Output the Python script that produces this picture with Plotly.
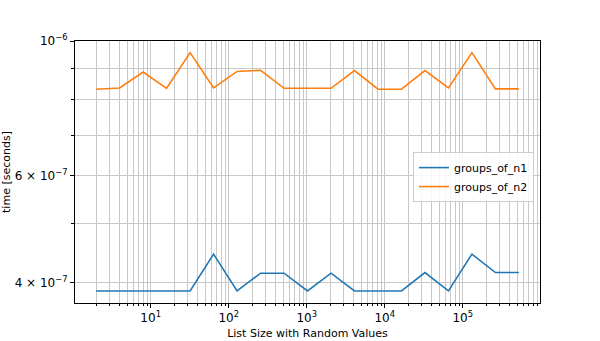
import plotly.graph_objects as go

# List sizes (powers of two) and measured timings
list_sizes = [2, 4, 8, 16, 32, 64, 128, 256, 512, 1024, 2048, 4096, 8192,
              16384, 32768, 65536, 131072, 262144, 524288]
groups_of_n1 = [3.88e-7, 3.88e-7, 3.88e-7, 3.88e-7, 3.88e-7, 4.46e-7, 3.88e-7,
                4.15e-7, 4.15e-7, 3.88e-7, 4.15e-7, 3.88e-7, 3.88e-7, 3.88e-7,
                4.16e-7, 3.88e-7, 4.46e-7, 4.16e-7, 4.16e-7]
groups_of_n2 = [8.33e-7, 8.37e-7, 8.89e-7, 8.36e-7, 9.57e-7, 8.37e-7, 8.91e-7,
                8.95e-7, 8.36e-7, 8.37e-7, 8.36e-7, 8.94e-7, 8.33e-7, 8.33e-7,
                8.94e-7, 8.37e-7, 9.57e-7, 8.34e-7, 8.34e-7]

x_major = [10, 100, 1000, 10000, 100000]
x_major_text = ["10<sup>1</sup>", "10<sup>2</sup>", "10<sup>3</sup>",
                "10<sup>4</sup>", "10<sup>5</sup>"]
x_minor = [m * 10 ** e for e in range(0, 6) for m in range(2, 10)]

y_labeled = [4e-7, 6e-7, 1e-6]
y_labeled_text = ["4 × 10<sup>−7</sup>", "6 × 10<sup>−7</sup>", "10<sup>−6</sup>"]
y_minor = [5e-7, 7e-7, 8e-7, 9e-7]

FONT = "DejaVu Sans"
GRID = "#c8c8c8"

fig = go.Figure()
fig.add_trace(go.Scatter(x=list_sizes, y=groups_of_n1, mode="lines",
                         name="groups_of_n1",
                         line=dict(color="#1f77b4", width=1.6)))
fig.add_trace(go.Scatter(x=list_sizes, y=groups_of_n2, mode="lines",
                         name="groups_of_n2",
                         line=dict(color="#ff7f0e", width=1.6)))

fig.update_layout(
    width=600, height=341,
    margin=dict(l=75, r=60, t=41, b=38),
    paper_bgcolor="white", plot_bgcolor="white",
    font=dict(family=FONT, size=11, color="black"),
    showlegend=True,
    legend=dict(x=0.987, y=0.576, xanchor="right", yanchor="top",
                bgcolor="rgba(255,255,255,0.85)", bordercolor="#cccccc",
                borderwidth=1, font=dict(size=11), tracegroupgap=0),
)

fig.update_xaxes(
    type="log", range=[0.030, 5.99], automargin=False,
    tickmode="array", tickvals=x_major, ticktext=x_major_text,
    ticks="outside", ticklen=4, tickcolor="black",
    tickfont=dict(size=12),
    showgrid=True, gridcolor=GRID, gridwidth=1,
    showline=True, linecolor="black", linewidth=1, mirror=True,
    zeroline=False,
    minor=dict(tickmode="array", tickvals=x_minor, ticks="outside",
               ticklen=2, tickcolor="black", showgrid=True,
               gridcolor=GRID, gridwidth=1),
    title=dict(text="List Size with Random Values", standoff=4,
               font=dict(size=11)),
)

fig.update_yaxes(
    type="log", range=[-6.431, -6.0], automargin=False,
    tickmode="array", tickvals=y_labeled, ticktext=y_labeled_text,
    ticks="outside", ticklen=4, tickcolor="black",
    tickfont=dict(size=12),
    showgrid=True, gridcolor=GRID, gridwidth=1,
    showline=True, linecolor="black", linewidth=1, mirror=True,
    zeroline=False,
    minor=dict(tickmode="array", tickvals=y_minor, ticks="outside",
               ticklen=3, tickcolor="black", showgrid=True,
               gridcolor=GRID, gridwidth=1),
    title=dict(text="time [seconds]", standoff=4, font=dict(size=11)),
)

fig.write_html("out.html")
